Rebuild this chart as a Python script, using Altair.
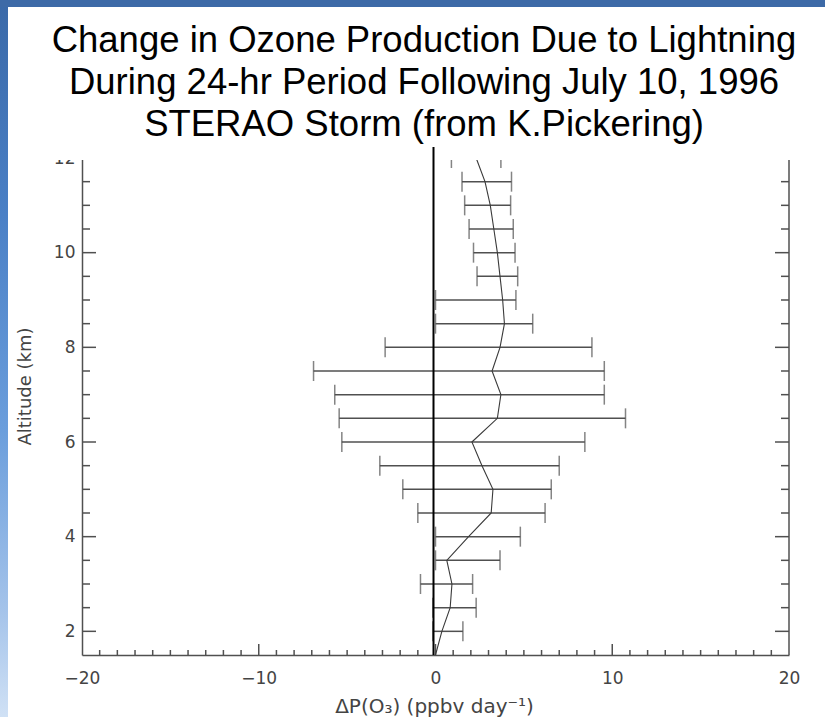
import altair as alt
import pandas as pd

# Altitude levels (km) with error bars, and the spread at each level
alt_km = [2.0, 2.5, 3.0, 3.5, 4.0, 4.5, 5.0, 5.5, 6.0, 6.5, 7.0,
          7.5, 8.0, 8.5, 9.0, 9.5, 10.0, 10.5, 11.0, 11.5, 12.0]
dp_low = [-0.15, -0.15, -0.85, 0.0, 0.0, -1.0, -1.85, -3.15, -5.3, -5.45, -5.7,
          -6.9, -2.85, 0.0, 0.0, 2.35, 2.15, 1.9, 1.65, 1.5, 0.9]
dp_high = [1.55, 2.3, 2.1, 3.65, 4.8, 6.2, 6.55, 7.0, 8.45, 10.75, 9.55,
           9.55, 8.85, 5.5, 4.55, 4.65, 4.5, 4.4, 4.25, 4.3, 3.7]

# Mean profile, starting at the surface level
line_km = [1.5, 2.0, 2.5, 3.0, 3.5, 4.0, 4.5, 5.0, 5.5, 6.0, 6.5, 7.0,
           7.5, 8.0, 8.5, 9.0, 9.5, 10.0, 10.5, 11.0, 11.5, 12.0]
dp_mean = [0.0, 0.36, 0.83, 0.93, 0.64, 1.87, 3.15, 3.25, 2.63, 2.06, 3.5, 3.7,
           3.2, 3.65, 3.9, 3.8, 3.65, 3.5, 3.3, 3.1, 2.8, 2.3]

title_lines = ["Change in Ozone Production Due to Lightning",
               "During 24-hr Period Following July 10, 1996",
               "STERAO Storm (from K.Pickering)"]
title_baselines = [-106, -64, -22]

x_labels = [-20, -10, 0, 10, 20]
x_minor = [v for v in range(-19, 20) if v % 10 != 0]
x_major = [-10, 0, 10]
y_labels = [2, 4, 6, 8, 10, 12]
y_minor = [2.5, 3.0, 3.5, 4.5, 5.0, 5.5, 6.5, 7.0, 7.5, 8.5, 9.0, 9.5, 10.5, 11.0, 11.5]
y_major = [2, 4, 6, 8, 10]

W, H = 707, 497
AX = "#505050"
TXT = "#444444"
FONT = "DejaVu Sans"

bars = pd.DataFrame({"km": alt_km, "low": dp_low, "high": dp_high})
prof = pd.DataFrame({"km": line_km, "mean": dp_mean})
one = pd.DataFrame({"k": [0]})
edge = pd.DataFrame({"xe": [20], "y0": [1.5], "y1": [12]})
zero = pd.DataFrame({"x0": [0]})

xs = alt.Scale(domain=[-20, 20], nice=False, zero=False)
ys = alt.Scale(domain=[1.5, 12], nice=False, zero=False)

x_axis = alt.Axis(
    values=x_labels, ticks=False, tickSize=0, grid=False, labelFlush=False,
    domain=True, domainColor=AX, domainWidth=1.5,
    labelFont=FONT, labelFontSize=17, labelColor=TXT, labelPadding=15,
    title="ΔP(O₃) (ppbv day⁻¹)", titleFont=FONT, titleFontSize=20,
    titleFontWeight="normal", titleColor=TXT, titleX=352, titleY=51,
    titleBaseline="middle", titleAlign="center",
)
y_axis = alt.Axis(
    values=y_labels, ticks=False, tickSize=0, grid=False,
    domain=True, domainColor=AX, domainWidth=1.5,
    labelFont=FONT, labelFontSize=17, labelColor=TXT, labelPadding=7,
    title="Altitude (km)", titleFont=FONT, titleFontSize=18,
    titleFontWeight="normal", titleColor=TXT, titleX=-57, titleY=228,
    titleAngle=270, titleBaseline="middle", titleAlign="center",
)


def X(field):
    return alt.X(field, scale=xs, axis=x_axis)


def Y(field):
    return alt.Y(field, scale=ys, axis=y_axis)


# slide frame: blue strips on the left and top edges
side_fill = alt.LinearGradient(
    gradient="linear",
    stops=[alt.GradientStop(color="#3a69a8", offset=0.0),
           alt.GradientStop(color="#4a80c6", offset=0.3),
           alt.GradientStop(color="#6b9edc", offset=0.6),
           alt.GradientStop(color="#a4c3ea", offset=0.85),
           alt.GradientStop(color="#d0e1f5", offset=1.0)],
    x1=0, x2=0, y1=0, y2=1,
)
strip_left = alt.Chart(one).mark_rect(fill=side_fill).encode(
    x=alt.value(-82), x2=alt.value(-74), y=alt.value(-158), y2=alt.value(559))
strip_top = alt.Chart(one).mark_rect(fill="#3d6aa7").encode(
    x=alt.value(-82), x2=alt.value(743), y=alt.value(-158), y2=alt.value(-151))

# error bars
bar_lines = alt.Chart(bars).mark_rule(color=AX, strokeWidth=1.5).encode(
    x=X("low:Q"), x2="high:Q", y=Y("km:Q"))
cap_lo = alt.Chart(bars).mark_tick(orient="vertical", size=20, thickness=1.5, color=AX).encode(
    x=X("low:Q"), y=Y("km:Q"))
cap_hi = alt.Chart(bars).mark_tick(orient="vertical", size=20, thickness=1.5, color=AX).encode(
    x=X("high:Q"), y=Y("km:Q"))

mean_line = alt.Chart(prof).mark_line(color="#3a3a3a", strokeWidth=1.1).encode(
    x=X("mean:Q"), y=Y("km:Q"), order="km:Q")


# inward tick marks on the frame
def xticks(vals, length):
    return alt.Chart(pd.DataFrame({"v": vals})).mark_rule(color=AX, strokeWidth=1.5).encode(
        x=X("v:Q"), y=alt.value(H), y2=alt.value(H - length))


def yticks(vals, x0, x1):
    return alt.Chart(pd.DataFrame({"v": vals})).mark_rule(color=AX, strokeWidth=1.5).encode(
        y=Y("v:Q"), x=alt.value(x0), x2=alt.value(x1))


right_edge = alt.Chart(edge).mark_rule(color=AX, strokeWidth=1.5).encode(
    x=X("xe:Q"), y=Y("y0:Q"), y2="y1:Q")

# white text box of the heading, lying over the top of the frame
mask = alt.Chart(one).mark_rect(fill="white").encode(
    x=alt.value(-40), x2=alt.value(W + 12), y=alt.value(-14), y2=alt.value(2))

zero_line = alt.Chart(zero).mark_rule(color="black", strokeWidth=2, xOffset=-2).encode(
    x=X("x0:Q"), y=alt.value(-11), y2=alt.value(H))

heading = [
    alt.Chart(one).mark_text(font="Liberation Sans", fontSize=36.5, color="black",
                             align="center", baseline="alphabetic").encode(
        x=alt.value(342), y=alt.value(yb), text=alt.value(t))
    for t, yb in zip(title_lines, title_baselines)
]

chart = alt.layer(
    strip_left, strip_top,
    xticks(x_minor, 5), xticks(x_major, 11),
    yticks(y_minor, 0, 8), yticks(y_major, 0, 14),
    yticks(y_minor, W - 8, W), yticks(y_major, W - 14, W),
    right_edge,
    bar_lines, cap_lo, cap_hi, mean_line,
    mask, zero_line,
    *heading,
).properties(
    width=W, height=H,
    autosize=alt.AutoSizeParams(type="none"),
    padding={"left": 82, "top": 158, "right": 36, "bottom": 62},
    background="white",
).configure_view(strokeWidth=0)

chart.save("out.html", embed_options={"renderer": "svg", "actions": False})
